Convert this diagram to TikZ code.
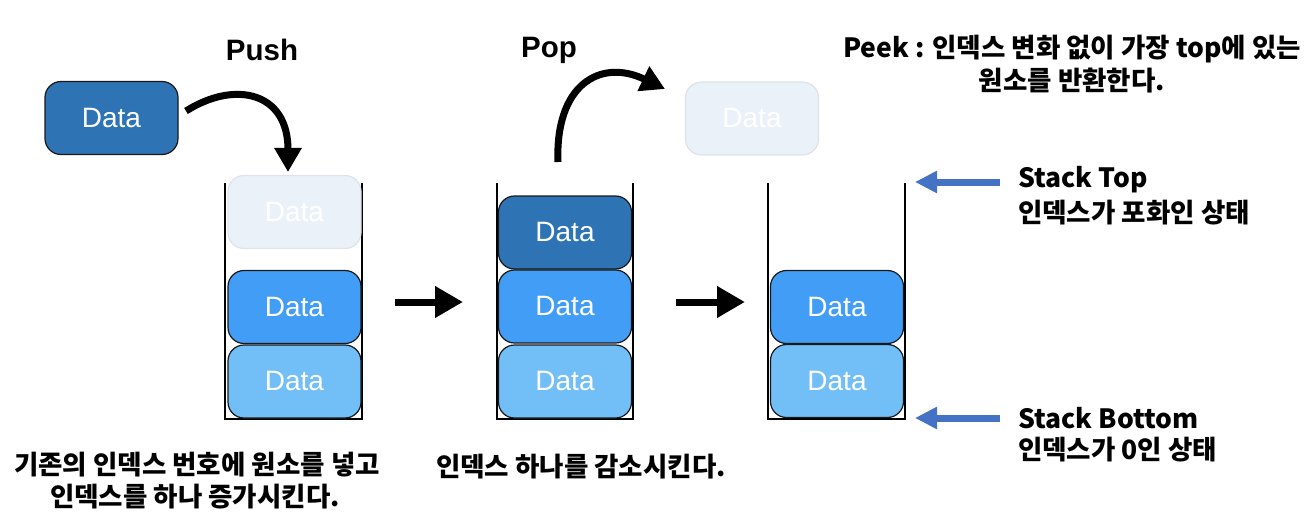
\documentclass[tikz,border=0pt]{standalone}
\usepackage{fontspec}
\setmainfont{Liberation Sans}
\newfontfamily\kr{Noto Sans CJK KR}
\usetikzlibrary{arrows.meta}
\definecolor{darkblue}{RGB}{46,116,181}
\definecolor{midblue}{RGB}{65,157,245}
\definecolor{lightblue}{RGB}{114,190,247}
\definecolor{fadefill}{RGB}{234,241,248}
\definecolor{fadeline}{RGB}{222,227,234}
\definecolor{arrowblue}{RGB}{68,114,196}
\tikzset{
  databox/.style={rounded corners=16pt, minimum width=133pt, minimum height=73pt, inner sep=0pt,
    draw=black!90, line width=1.2pt, text=white, font=\fontsize{28}{30}\selectfont},
  fadebox/.style={databox, draw=fadeline, fill=fadefill},
  title/.style={font=\fontsize{29.5}{32}\selectfont\bfseries},
  krtext/.style={font=\kr\bfseries\fontsize{26.5}{30}\selectfont, inner sep=0pt},
  wall/.style={line width=2pt, line join=miter},
  bigarrow/.style={line width=7pt, -{Triangle[length=28pt,width=30pt]}},
  curvearrow/.style={line width=7pt, -{Triangle[length=24pt,width=26pt]}},
  bluearrow/.style={draw=arrowblue, line width=7pt, -{Triangle[length=22pt,width=21pt]}}
}
\begin{document}
\begin{tikzpicture}[x=1pt,y=-1pt]
\useasboundingbox (0,0) rectangle (1312,532);
% titles
\node[title] (push) at (262,50) {Push};
\node[title] (pop) at (549,50) {Pop};
% peek text
\node[krtext] (peek1) at (1072,49) {Peek : 인덱스 변화 없이 가장 top에 있는};
\node[krtext] (peek2) at (1072,81) {원소를 반환한다.};
% data to push
\node[databox, fill=darkblue] (d0) at (111.5,118) {Data};
% stack 1
\draw[wall] (225,183) -- (225,419) -- (362,419) -- (362,183);
\node[fadebox] (s1c) at (294.5,212) {Data};
\node[databox, fill=midblue] (s1b) at (294.5,307) {Data};
\node[databox, fill=lightblue] (s1a) at (294.5,381.5) {Data};
% stack 2
\draw[wall] (497,183) -- (497,419) -- (633,419) -- (633,183);
\node[databox, fill=darkblue] (s2c) at (565,232.5) {Data};
\node[databox, fill=midblue] (s2b) at (565,306.5) {Data};
\node[databox, fill=lightblue] (s2a) at (565,381.5) {Data};
% popped
\node[fadebox] (pd) at (752,118.5) {Data};
% stack 3
\draw[wall] (768,183) -- (768,419) -- (905,419) -- (905,183);
\node[databox, fill=midblue] (s3b) at (837,307) {Data};
\node[databox, fill=lightblue] (s3a) at (837,381) {Data};
% push arrow
\coordinate (pushstart) at (186,111);
\coordinate (pushend) at (288,172);
\draw[curvearrow] (pushstart) .. controls (235,80) and (288,92) .. (pushend);
% pop arrow
\coordinate (popstart) at (558,162);
\coordinate (popend) at (665,89);
\draw[curvearrow] (popstart) .. controls (555,85) and (600,58) .. (popend);
% horizontal arrows
\coordinate (h1a) at (395,302);
\coordinate (h1b) at (463,302);
\coordinate (h2a) at (676,302);
\coordinate (h2b) at (745,302);
\draw[bigarrow] (h1a) -- (h1b);
\draw[bigarrow] (h2a) -- (h2b);
% side labels
\node[krtext, anchor=west] (top1) at (1018,180) {Stack Top};
\node[krtext, anchor=west] (top2) at (1018,213) {인덱스가 포화인 상태};
\node[krtext, anchor=west] (bot1) at (1018,418) {Stack Bottom};
\node[krtext, anchor=west] (bot2) at (1018,450) {인덱스가 0인 상태};
\coordinate (ttip) at (915,182);
\coordinate (btip) at (915,418);
\draw[bluearrow] ([xshift=-18pt]top1.west |- ttip) -- (ttip);
\draw[bluearrow] ([xshift=-18pt]bot1.west |- btip) -- (btip);
% bottom texts
\node[krtext] (pushd1) at (197,465) {기존의 인덱스 번호에 원소를 넣고};
\node[krtext] (pushd2) at (195,497) {인덱스를 하나 증가시킨다.};
\node[krtext] (popd) at (581,467) {인덱스 하나를 감소시킨다.};
\end{tikzpicture}
\end{document}
